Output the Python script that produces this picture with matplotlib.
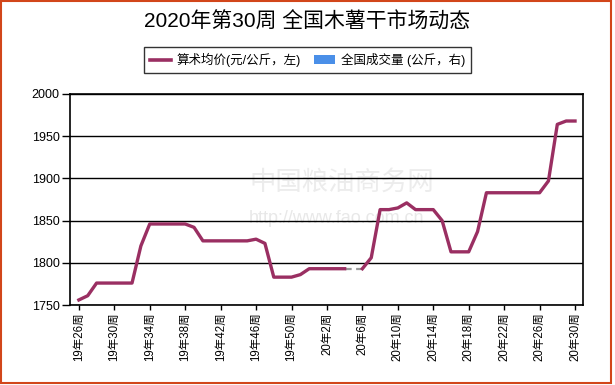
import numpy as np
import matplotlib
matplotlib.use("Agg")
import matplotlib.pyplot as plt
from matplotlib.lines import Line2D
from matplotlib.patches import Patch, Rectangle

plt.rcParams['font.family'] = ['Liberation Sans', 'Noto Sans CJK SC', 'DejaVu Sans']

title = "2020年第30周 全国木薯干市场动态"
series_price = "算术均价(元/公斤，左)"
series_volume = "全国成交量 (公斤，右)"

# Weekly average price, 19年26周 .. 20年30周 (None = no data)
price = [1756, 1761, 1776, 1776, 1776, 1776, 1776, 1820, 1846, 1846,
         1846, 1846, 1846, 1842, 1826, 1826, 1826, 1826, 1826, 1826,
         1828, 1823, 1783, 1783, 1783, 1786, 1793, 1793, 1793, 1793,
         1793, None, 1793, 1806, 1863, 1863, 1865, 1871, 1863, 1863,
         1863, 1850, 1813, 1813, 1813, 1837, 1883, 1883, 1883, 1883,
         1883, 1883, 1883, 1897, 1964, 1968, 1968]

tick_labels = ["19年26周", "19年30周", "19年34周", "19年38周", "19年42周",
               "19年46周", "19年50周", "20年2周", "20年6周", "20年10周",
               "20年14周", "20年18周", "20年22周", "20年26周", "20年30周"]

y_ticks = [1750, 1800, 1850, 1900, 1950, 2000]

W, H = 615, 385
fig = plt.figure(figsize=(W / 100, H / 100), dpi=100)
ax = fig.add_axes([70 / W, 1 - 305 / H, (583 - 70) / W, (305 - 94) / H])

vals = np.array([np.nan if v is None else v for v in price], dtype=float)
x = np.arange(len(vals))
line_color = "#9a2f62"

# watermark
ax.text(0.53, 0.58, "中国粮油商务网", transform=ax.transAxes, fontsize=19,
        color="#ececec", ha="center", va="center", zorder=0,
        family=['Noto Sans CJK SC'])
ax.text(0.52, 0.41, "http://www.fao.com.cn", transform=ax.transAxes, fontsize=13,
        color="#e8e8e8", ha="center", va="center", zorder=0)

# gap bridge (dashed grey)
nan_idx = np.where(np.isnan(vals))[0]
for i in nan_idx:
    ax.plot([x[i - 1], x[i + 1]], [vals[i - 1], vals[i + 1]], color="#9a9a9a",
            lw=1.6, ls=(0, (3, 2)), zorder=3)
ax.plot(x, vals, color=line_color, lw=2.4, zorder=4, solid_joinstyle="round")

ax.set_xlim(-1.0, 56.9)
ax.set_ylim(1750, 2000)
ax.set_yticks(y_ticks)
ax.set_yticklabels([str(v) for v in y_ticks], fontsize=9)
ax.set_xticks(x[::4])
ax.set_xticklabels(tick_labels, rotation=90, fontsize=8.3, va="top")
ax.tick_params(axis="y", length=5.5, width=1, pad=2, color="black")
ax.tick_params(axis="x", length=3.5, width=1, pad=2, color="black")
ax.grid(axis="y", color="black", lw=1)
ax.set_axisbelow(True)
for s in ax.spines.values():
    s.set_color("black")
    s.set_linewidth(1.2)

fig.text(0.5, 1 - 22 / H, title, ha="center", va="center", fontsize=15)

handles = [Line2D([0], [0], color=line_color, lw=2.6),
           Patch(facecolor="#4a8fe8", edgecolor="none")]
leg = fig.legend(handles, [series_price, series_volume], loc="center",
                 bbox_to_anchor=(0.5, 1 - 60 / H), ncol=2, fontsize=9,
                 frameon=True, fancybox=False, edgecolor="black",
                 handlelength=1.7, handleheight=0.7, columnspacing=1.0,
                 borderpad=0.45, handletextpad=0.5, borderaxespad=0)
leg.get_frame().set_linewidth(1.0)

fig.add_artist(Rectangle((1 / W, 2 / H), (611 - 1) / W, (H - 3) / H,
                         transform=fig.transFigure, fill=False,
                         edgecolor="#d2461a", lw=1.5))

fig.savefig("out.png", dpi=100)
